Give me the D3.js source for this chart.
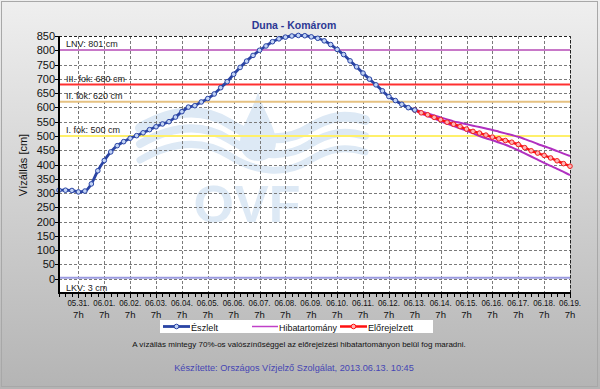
<!DOCTYPE html>
<html>
<head>
<meta charset="utf-8">
<script src="https://cdn.jsdelivr.net/npm/d3@7"></script>
<style>
  html, body { margin: 0; padding: 0; }
  body { width: 600px; height: 389px; overflow: hidden; }
  text { font-family: "Liberation Sans", Arial, sans-serif; }
</style>
</head>
<body>
<svg id="chart" width="600" height="389"></svg>
<script>
// observed water level (cm), every 6 hours from 2013-05-30 13h
const observedStart = "2013-05-30T13:00";
const observed = [
  310, 310, 309, 304, 307, 332, 378, 414, 444, 466,
  480, 492, 501, 511, 522, 532, 542, 550, 566, 585,
  601, 606, 619, 631, 647, 669, 690, 716, 740, 762,
  782, 800, 815, 830, 840, 846, 850, 852, 851, 847,
  842, 833, 820, 803, 785, 763, 742, 720, 699, 679,
  658, 638, 624, 611, 599, 591
];
// forecast, every 6 hours from 2013-06-13 7h
const forecastStart = "2013-06-13T07:00";
const forecast = [
  591, 581, 574, 565, 557, 548, 541, 533, 524, 516,
  510, 503, 496, 490, 484, 478, 470, 459, 448, 440,
  432, 423, 413, 403, 394
];
const errorUpper = [
  591, 586, 579, 572, 565, 558, 551, 546, 541, 536,
  531, 526, 521, 515, 509, 503, 497, 489, 481, 472,
  464, 456, 447, 438, 430
];
const errorLower = [
  591, 578, 570, 561, 552, 543, 535, 527, 518, 509,
  500, 492, 485, 477, 469, 460, 450, 439, 428, 417,
  406, 395, 385, 374, 363
];
// threshold levels
const levelNames = ["LNV: 801 cm", "III. fok: 680 cm", "II. fok: 620 cm", "I. fok: 500 cm", "LKV: 3 cm"];
const levelValues = [801, 680, 620, 500, 3];
const levelColors = ["#c878c8", "#ff3030", "#e6c282", "#fff06a", "#9a9ae0"];

const yTicks = d3.range(0, 851, 50);
const legendNames = ["Észlelt", "Hibatartomány", "Előrejelzett"];
const title = "Duna - Komárom";
const yTitle = "Vízállás [cm]";
const note = "A vízállás mintegy 70%-os valószínűséggel az előrejelzési hibatartományon belül fog maradni.";
const credit = "Készítette: Országos Vízjelző Szolgálat, 2013.06.13. 10:45";

const parse = d3.timeParse("%Y-%m-%dT%H:%M");
const step = 6;
const obsData = observed.map((v, i) => ({t: d3.timeHour.offset(parse(observedStart), i * step), v}));
const fcData = forecast.map((v, i) => ({t: d3.timeHour.offset(parse(forecastStart), i * step), v}));
const upData = errorUpper.map((v, i) => ({t: fcData[i].t, v}));
const loData = errorLower.map((v, i) => ({t: fcData[i].t, v}));

const svg = d3.select("#chart");
const plot = {left: 59, right: 570, top: 36, bottom: 293};

// background
const defs = svg.append("defs");
const grad = defs.append("linearGradient").attr("id", "bg")
    .attr("x1", 0).attr("y1", 0).attr("x2", 0).attr("y2", 1);
grad.append("stop").attr("offset", "0%").attr("stop-color", "#efefef");
grad.append("stop").attr("offset", "100%").attr("stop-color", "#b4b4b4");
svg.append("rect").attr("width", 600).attr("height", 389).attr("fill", "url(#bg)");
svg.append("rect").attr("x", 1.5).attr("y", 1.5).attr("width", 596).attr("height", 385)
    .attr("fill", "none").attr("stroke", "#a8a8a8").attr("stroke-width", 1);

const x = d3.scaleTime()
    .domain([parse("2013-05-30T13:00"), parse("2013-06-19T07:00")])
    .range([plot.left, plot.right]);
const y = d3.scaleLinear().domain([-50, 850]).range([plot.bottom, plot.top]);

svg.append("rect")
    .attr("x", plot.left).attr("y", plot.top)
    .attr("width", plot.right - plot.left).attr("height", plot.bottom - plot.top)
    .attr("fill", "#fff");

// watermark logo
const wm = svg.append("g").attr("fill", "none").attr("stroke", "#dde9f5");
wm.append("path")
    .attr("d", "M258,92 C252,112 240,128 240,142 C240,154 248,161 258,161 C268,161 276,154 276,142 C276,128 264,112 258,92 Z")
    .attr("fill", "#dde9f5").attr("stroke", "none");
[[0, 10], [16, 8], [32, 7]].forEach(([dy, w]) => {
  wm.append("path")
    .attr("d", `M140,${128 + dy} C175,${108 + dy} 205,${108 + dy} 230,${124 + dy} C255,${140 + dy} 285,${144 + dy} 310,${128 + dy} C330,${116 + dy} 345,${114 + dy} 365,${120 + dy}`)
    .attr("stroke-width", w).attr("stroke-linecap", "round");
});
svg.append("text").attr("x", 247).attr("y", 222).attr("text-anchor", "middle")
    .attr("font-size", 52).attr("font-weight", "bold").attr("fill", "#dde9f5")
    .text("OVF");

// grid
const dayTicks = d3.timeHour.range(parse("2013-05-31T07:00"), parse("2013-06-19T08:00"), 24);
const grid = svg.append("g").attr("stroke", "#7a7a7a").attr("stroke-width", 1).attr("stroke-dasharray", "3,2");
grid.selectAll("line.v").data(dayTicks).join("line")
    .attr("x1", d => Math.round(x(d)) + 0.5).attr("x2", d => Math.round(x(d)) + 0.5)
    .attr("y1", plot.top).attr("y2", plot.bottom);
grid.selectAll("line.h").data(yTicks).join("line")
    .attr("x1", plot.left).attr("x2", plot.right)
    .attr("y1", d => Math.round(y(d)) + 0.5).attr("y2", d => Math.round(y(d)) + 0.5);

// threshold levels
const levels = svg.append("g");
levelValues.forEach((v, i) => {
  const yy = y(v);
  levels.append("line").attr("x1", plot.left).attr("x2", plot.right)
      .attr("y1", yy).attr("y2", yy)
      .attr("stroke", levelColors[i]).attr("stroke-width", 2);
  levels.append("text").attr("x", 66).attr("y", v < 100 ? yy + 13 : yy - 2.5)
      .attr("font-size", 9).attr("fill", "#222").text(levelNames[i]);
});

// plot frame (dashed top/right)
svg.append("path")
    .attr("d", `M${plot.left},${plot.top + 0.5}H${plot.right + 0.5}V${plot.bottom}`)
    .attr("fill", "none").attr("stroke", "#222").attr("stroke-dasharray", "3,2");

// series
const line = d3.line().x(d => x(d.t)).y(d => y(d.v)).curve(d3.curveMonotoneX);

svg.append("path").datum(upData).attr("d", line)
    .attr("fill", "none").attr("stroke", "#b030c0").attr("stroke-width", 2);
svg.append("path").datum(loData).attr("d", line)
    .attr("fill", "none").attr("stroke", "#b030c0").attr("stroke-width", 2);

svg.append("path").datum(fcData).attr("d", line)
    .attr("fill", "none").attr("stroke", "#ff1010").attr("stroke-width", 2.5);
svg.append("g").selectAll("circle").data(fcData).join("circle")
    .attr("cx", d => x(d.t)).attr("cy", d => y(d.v)).attr("r", 2.3)
    .attr("fill", "#ffb4b4").attr("stroke", "#f02020").attr("stroke-width", 1);

svg.append("path").datum(obsData).attr("d", line)
    .attr("fill", "none").attr("stroke", "#2a44a4").attr("stroke-width", 2.8);
svg.append("g").selectAll("circle").data(obsData).join("circle")
    .attr("cx", d => x(d.t)).attr("cy", d => y(d.v)).attr("r", 2.3)
    .attr("fill", "#c2d4f6").attr("stroke", "#2a44a4").attr("stroke-width", 1);

// axes
const yAxis = svg.append("g");
yAxis.append("line").attr("x1", plot.left).attr("x2", plot.left)
    .attr("y1", plot.top).attr("y2", plot.bottom + 1).attr("stroke", "#000").attr("stroke-width", 2);
yAxis.selectAll("line.t").data(yTicks).join("line")
    .attr("x1", plot.left - 4).attr("x2", plot.left)
    .attr("y1", d => Math.round(y(d)) + 0.5).attr("y2", d => Math.round(y(d)) + 0.5)
    .attr("stroke", "#000");
yAxis.selectAll("text").data(yTicks).join("text")
    .attr("x", 55).attr("y", d => y(d) + 4)
    .attr("text-anchor", "end").attr("font-size", 11).attr("fill", "#111")
    .text(d => d);

const minorTicks = d3.timeHour.range(parse("2013-05-30T13:00"), parse("2013-06-19T08:00"), 6);
const xAxis = svg.append("g");
xAxis.append("line").attr("x1", plot.left - 1).attr("x2", plot.right + 1)
    .attr("y1", plot.bottom).attr("y2", plot.bottom).attr("stroke", "#000").attr("stroke-width", 2);
xAxis.selectAll("line.m").data(minorTicks).join("line")
    .attr("x1", d => Math.round(x(d)) + 0.5).attr("x2", d => Math.round(x(d)) + 0.5)
    .attr("y1", plot.bottom).attr("y2", d => plot.bottom + (d.getHours() === 7 ? 5 : 4))
    .attr("stroke", "#000");
const fmt = d3.timeFormat("%m.%d.");
const xl = xAxis.selectAll("g.lab").data(dayTicks).join("g")
    .attr("transform", d => `translate(${x(d)},0)`);
xl.append("text").attr("y", 306).attr("text-anchor", "middle")
    .attr("font-size", 9.5).attr("textLength", 22).attr("lengthAdjust", "spacingAndGlyphs")
    .attr("fill", "#111").text(d => fmt(d));
xl.append("text").attr("y", 318).attr("text-anchor", "middle")
    .attr("font-size", 9.5).attr("fill", "#111").text(d => d.getHours() + "h");

// titles
svg.append("text").attr("x", 294).attr("y", 29).attr("text-anchor", "middle")
    .attr("font-size", 10.5).attr("font-weight", "bold").attr("fill", "#2c3894").text(title);
svg.append("text").attr("transform", "translate(27,165) rotate(-90)")
    .attr("text-anchor", "middle").attr("font-size", 11).attr("fill", "#111").text(yTitle);

// legend
const lg = svg.append("g");
lg.append("rect").attr("x", 160).attr("y", 320).attr("width", 273).attr("height", 13).attr("fill", "#fff");
const legendItems = [
  {x: 163, w: 27, stroke: "#2a44a4", fill: "#c2d4f6", sw: 2.8, marker: true, tw: 27},
  {x: 252, w: 26, stroke: "#c040c8", sw: 1.5, marker: false, tw: 58},
  {x: 340, w: 27, stroke: "#ff1010", fill: "#ffb4b4", sw: 2.5, marker: true, tw: 45}
];
legendItems.forEach((it, i) => {
  lg.append("line").attr("x1", it.x).attr("x2", it.x + it.w).attr("y1", 326.5).attr("y2", 326.5)
      .attr("stroke", it.stroke).attr("stroke-width", it.sw);
  if (it.marker) {
    lg.append("circle").attr("cx", it.x + it.w / 2).attr("cy", 326.5).attr("r", 2.3)
        .attr("fill", it.fill).attr("stroke", it.stroke);
  }
  lg.append("text").attr("x", it.x + it.w + 1).attr("y", 330.5)
      .attr("font-size", 9.5).attr("textLength", it.tw).attr("lengthAdjust", "spacingAndGlyphs")
      .attr("fill", "#111").text(legendNames[i]);
});

svg.append("text").attr("x", 299).attr("y", 347).attr("text-anchor", "middle")
    .attr("font-size", 8).attr("fill", "#111").text(note);
svg.append("text").attr("x", 294).attr("y", 371).attr("text-anchor", "middle")
    .attr("font-size", 9.2).attr("fill", "#4646b4").text(credit);
</script>
</body>
</html>
